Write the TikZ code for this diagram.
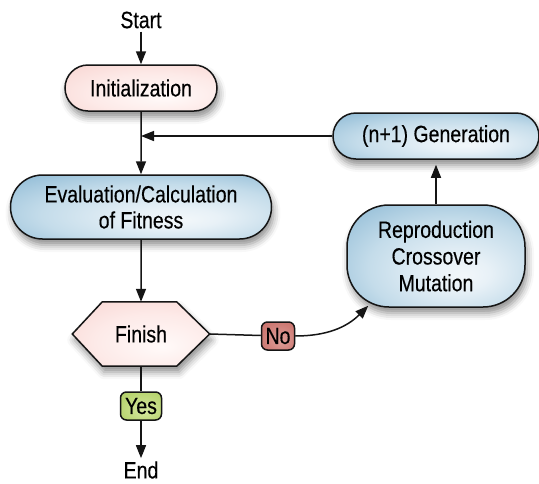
\documentclass[tikz,border=0pt]{standalone}
\usepackage{fontspec}
\setmainfont{Liberation Sans}[FakeStretch=0.83, FakeBold=0.35]
\usetikzlibrary{shapes.misc,shadows.blur,arrows.meta}
\pgfdeclarelayer{bg}
\pgfsetlayers{bg,main}

\definecolor{edge}{HTML}{151515}

% glossy fills: a pale highlight a little below and right of the middle
\pgfdeclareradialshading{blueglow}{\pgfpoint{8bp}{-10bp}}{%
  color(0bp)=(rgb,255:red,242;green,247;blue,250);
  color(8bp)=(rgb,255:red,232;green,241;blue,247);
  color(24bp)=(rgb,255:red,196;green,220;blue,234);
  color(42bp)=(rgb,255:red,134;green,181;blue,210);
  color(62bp)=(rgb,255:red,106;green,159;blue,194)}
\pgfdeclareradialshading{pinkglow}{\pgfpoint{8bp}{-10bp}}{%
  color(0bp)=(rgb,255:red,255;green,250;blue,249);
  color(22bp)=(rgb,255:red,253;green,234;blue,232);
  color(45bp)=(rgb,255:red,247;green,208;blue,204);
  color(62bp)=(rgb,255:red,240;green,190;blue,186)}
\pgfdeclareradialshading{greenglow}{\pgfpoint{4bp}{-8bp}}{%
  color(0bp)=(rgb,255:red,214;green,232;blue,160);
  color(30bp)=(rgb,255:red,184;green,212;blue,112);
  color(60bp)=(rgb,255:red,150;green,186;blue,72)}
\pgfdeclareradialshading{redglow}{\pgfpoint{4bp}{-8bp}}{%
  color(0bp)=(rgb,255:red,222;green,160;blue,154);
  color(30bp)=(rgb,255:red,204;green,120;blue,114);
  color(60bp)=(rgb,255:red,182;green,90;blue,86)}

\tikzset{
  outline/.style={draw=edge, line width=1.5pt},
  softshadow/.style={blur shadow={shadow xshift=2pt, shadow yshift=-6pt,
      shadow blur radius=7pt, shadow opacity=45}},
  terminal/.style={rounded rectangle, outline, softshadow},
  pinkfill/.style={shade, shading=pinkglow},
  bluefill/.style={shade, shading=blueglow},
  tag/.style={rectangle, rounded corners=6pt, outline, minimum height=28pt,
      inner xsep=2pt},
  flow/.style={draw=edge, line width=1.5pt},
  tipped/.style={-{Triangle[length=13pt,width=10pt]}},
}

\begin{document}
\begin{tikzpicture}[x=1pt,y=1pt,
    font=\fontsize{23.5}{26}\selectfont,
    every node/.style={align=center, inner sep=0pt, text=black}]
  \useasboundingbox (0,0) rectangle (539,-483);

  % main column
  \node[inner sep=3pt] (start) at (141,-20) {Start};
  \node[terminal, pinkfill, minimum width=152pt, minimum height=46pt]
    (init) at (141,-88) {Initialization};
  \node[terminal, bluefill, minimum width=261pt, minimum height=64pt]
    (eval) at (141,-207) {Evaluation/Calculation\\of Fitness};
  \node[minimum width=137pt, minimum height=64pt] (fin) at (141,-334) {Finish};
  \node[tag, shade, shading=greenglow, minimum width=41pt]
    (yes) at (141,-406) {Yes};
  \node[inner sep=3pt] (end) at (141,-470) {End};

  % loop back column
  \node[tag, shade, shading=redglow, minimum width=33pt]
    (no) at (278,-336) {No};
  \node[rectangle, rounded corners=42pt, outline, softshadow, bluefill,
        minimum width=178pt, minimum height=102pt, text depth=0pt]
    (repr) at (436,-256) {Reproduction\\[0.7pt]Crossover\\[0.7pt]Mutation};
  \node[terminal, bluefill, minimum width=206pt, minimum height=46pt]
    (gen) at (436,-136) {(n+1) Generation};

  % decision hexagon behind its label
  \begin{pgfonlayer}{bg}
    \path[outline, softshadow, pinkfill]
      (fin.west) -- ([xshift=30pt]fin.north west) -- ([xshift=-33pt]fin.north east)
      -- (fin.east) -- ([xshift=-33pt]fin.south east) -- ([xshift=30pt]fin.south west)
      -- cycle;
  \end{pgfonlayer}

  \coordinate (join) at (init.south |- gen.west);
  \coordinate (entry) at ([xshift=22pt,yshift=2pt]repr.south west);

  % connectors
  \draw[flow, tipped] (start) -- (init);
  \draw[flow, tipped] (init) -- (eval);
  \draw[flow, tipped] (eval) -- (fin);
  \draw[flow] (fin) -- (yes);
  \draw[flow, tipped] (yes) -- (end);
  \draw[flow] (fin.east) -- (no);
  \draw[flow, tipped] (no.east) to[out=0, in=225] (entry);
  \draw[flow, tipped, shorten >=5pt] (repr) -- (gen);
  \draw[flow, tipped] (gen) -- (join);
\end{tikzpicture}
\end{document}
